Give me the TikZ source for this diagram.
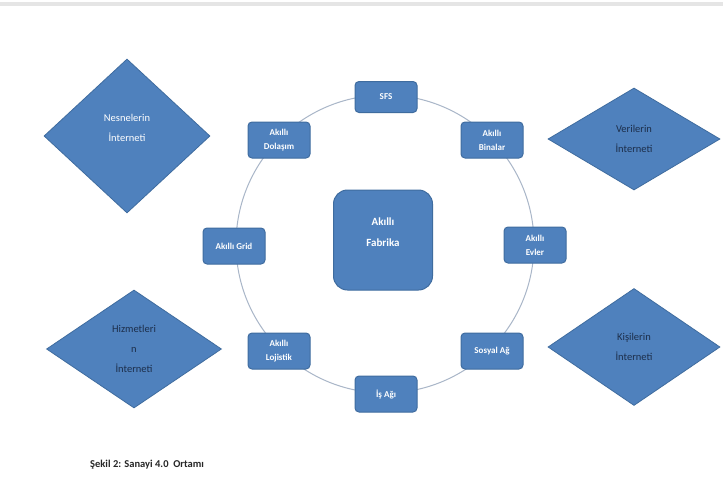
\documentclass[tikz,border=0pt]{standalone}
\usepackage{fontspec}
\setmainfont{Carlito}
\usetikzlibrary{shapes.geometric}
\definecolor{boxfill}{HTML}{4F81BD}
\definecolor{boxedge}{HTML}{3F6C9F}
\definecolor{ringcol}{HTML}{A9B6C8}
\definecolor{darktext}{HTML}{1C2E4A}
\tikzset{
  smallbox/.style={draw=boxedge, line width=1pt, fill=boxfill, rounded corners=4pt,
    minimum width=62pt, minimum height=36pt, inner sep=1pt, align=center,
    text=white, font=\fontsize{9}{14}\selectfont\bfseries},
  bigbox/.style={draw=boxedge, line width=1pt, fill=boxfill, rounded corners=14pt,
    minimum width=99pt, minimum height=100pt, align=center, text=white,
    font=\fontsize{11}{21}\selectfont\bfseries},
  bigdiamond/.style={diamond, draw=boxedge, line width=0.8pt, fill=boxfill, align=center,
    inner sep=0pt, font=\fontsize{10.5}{20}\selectfont},
  ringline/.style={draw=ringcol, line width=1pt},
}
\begin{document}
\begin{tikzpicture}[x=1pt,y=-1pt]
\useasboundingbox (0,0) rectangle (723,490);
\fill[white] (0,0) rectangle (723,490);
\fill[black!10] (0,2) rectangle (723,6);
% ring
\node[circle, ringline, minimum size=298pt, inner sep=0pt] (ring) at (385,244) {};
% outer diamonds
\node[bigdiamond, minimum width=166pt, minimum height=154pt, text=white] (nes) at (127,136) {};
\node[text=white, align=center, font=\fontsize{10.5}{20}\selectfont] (nest) at (127,128) {Nesnelerin\\İnterneti};
\node[bigdiamond, minimum width=172pt, minimum height=102pt, text=darktext] (ver) at (634,139) {Verilerin\\İnterneti};
\node[bigdiamond, minimum width=175pt, minimum height=118pt, text=darktext] (hiz) at (134,349) {Hizmetleri\\n\\İnterneti};
\node[bigdiamond, minimum width=172pt, minimum height=117pt, text=darktext] (kis) at (634,347) {Kişilerin\\İnterneti};
% centre
\node[bigbox] (fab) at (383,240) {};
\node[text=white, align=center, font=\fontsize{11}{21}\selectfont\bfseries] (fabt) at (383,232) {Akıllı\\Fabrika};
% ring boxes
\node[smallbox, minimum height=31pt] (sfs) at (386,97) {SFS};
\node[smallbox] (dol) at (279,140) {Akıllı\\Dolaşım};
\node[smallbox] (bin) at (492,140) {Akıllı\\Binalar};
\node[smallbox] (grid) at (234,246) {Akıllı Grid};
\node[smallbox] (evl) at (535,245) {Akıllı\\Evler};
\node[smallbox] (loj) at (279,351) {Akıllı\\Lojistik};
\node[smallbox] (sos) at (492,351) {Sosyal Ağ};
\node[smallbox] (isa) at (386,394) {İş Ağı};
% caption
\node[anchor=west, inner sep=0pt, font=\fontsize{10.5}{12}\selectfont\bfseries, text=black!85] (cap) at (90,465) {Şekil 2: Sanayi 4.0\ \ Ortamı};
\end{tikzpicture}
\end{document}
